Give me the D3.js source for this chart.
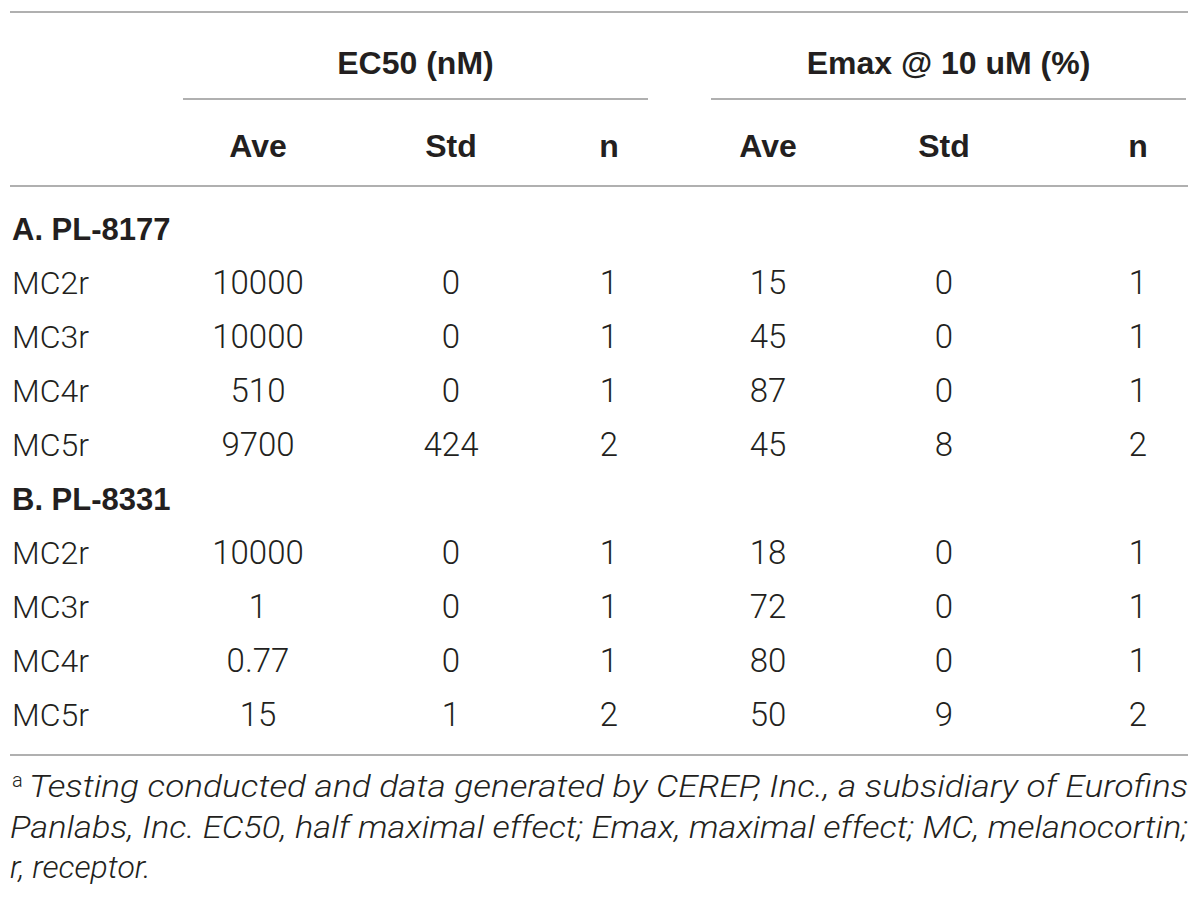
<!DOCTYPE html>
<html>
<head>
<meta charset="utf-8">
<script src="https://cdn.jsdelivr.net/npm/d3@7"></script>
<style>
  body { margin: 0; background: #fff; }
  svg { display: block; }
</style>
</head>
<body>
<div class="table"></div>
<script>
var w = 1200,
    h = 904;

// table contents
var compounds = ["A. PL-8177", "B. PL-8331"];
var receptors = ["MC2r", "MC3r", "MC4r", "MC5r"];
var groups = ["EC50 (nM)", "Emax @ 10 uM (%)"];
var subHeads = ["Ave", "Std", "n", "Ave", "Std", "n"];

var ec50Ave = [[10000, 10000, 510, 9700], [10000, 1, 0.77, 15]];
var ec50Std = [[0, 0, 0, 424], [0, 0, 0, 1]];
var ec50N   = [[1, 1, 1, 2], [1, 1, 1, 2]];
var emaxAve = [[15, 45, 87, 45], [18, 72, 80, 50]];
var emaxStd = [[0, 0, 0, 8], [0, 0, 0, 9]];
var emaxN   = [[1, 1, 1, 2], [1, 1, 1, 2]];

var footnote = [
  "Testing conducted and data generated by CEREP, Inc., a subsidiary of Eurofins",
  "Panlabs, Inc. EC50, half maximal effect; Emax, maximal effect; MC, melanocortin;",
  "r, receptor."
];

var ink = "#231f20",
    rule = "#b0b0b0",
    boldFont = "'Liberation Sans', Arial, sans-serif",
    lightFont = "Roboto, 'Liberation Sans', sans-serif";

// build rows: a section heading then its four receptors
var rows = [];
compounds.forEach(function(c, ci) {
  rows.push({ type: "section", label: c });
  receptors.forEach(function(r, ri) {
    rows.push({
      type: "data",
      label: r,
      values: [ec50Ave[ci][ri], ec50Std[ci][ri], ec50N[ci][ri],
               emaxAve[ci][ri], emaxStd[ci][ri], emaxN[ci][ri]]
    });
  });
});

var svg = d3.select("body").select(".table").append("svg")
  .attr("width", w)
  .attr("height", h);

var x = d3.scaleOrdinal()
  .domain(d3.range(6))
  .range([258, 451, 609, 768, 944, 1138]);

var y = d3.scaleBand()
  .domain(d3.range(rows.length))
  .range([201, 741]);

var left = 10, right = 1188;

// horizontal rules
[12, 186, 755].forEach(function(yy) {
  svg.append("line")
    .attr("x1", left).attr("x2", right)
    .attr("y1", yy).attr("y2", yy)
    .attr("stroke", rule).attr("stroke-width", 2);
});

var groupSpans = [[183, 648], [711, 1186]];
svg.selectAll(".grule")
  .data(groupSpans)
  .enter()
  .append("line")
  .attr("x1", function(d) { return d[0]; })
  .attr("x2", function(d) { return d[1]; })
  .attr("y1", 99).attr("y2", 99)
  .attr("stroke", rule).attr("stroke-width", 2);

// group headings
svg.selectAll(".ghead")
  .data(groups)
  .enter()
  .append("text")
  .attr("x", function(d, i) { return (groupSpans[i][0] + groupSpans[i][1]) / 2; })
  .attr("y", 74)
  .attr("text-anchor", "middle")
  .attr("font-family", boldFont)
  .attr("font-weight", "bold")
  .attr("font-size", 32)
  .attr("fill", ink)
  .text(function(d) { return d; });

// column headings
svg.selectAll(".shead")
  .data(subHeads)
  .enter()
  .append("text")
  .attr("x", function(d, i) { return x(i); })
  .attr("y", 157)
  .attr("text-anchor", "middle")
  .attr("font-family", boldFont)
  .attr("font-weight", "bold")
  .attr("font-size", 32)
  .attr("fill", ink)
  .text(function(d) { return d; });

// body rows
var row = svg.selectAll(".row")
  .data(rows)
  .enter()
  .append("g")
  .attr("transform", function(d, i) {
    return "translate(0," + (y(i) + y.bandwidth() / 2 + 11.5) + ")";
  });

row.append("text")
  .attr("x", 12)
  .attr("font-size", function(d) { return d.type == "section" ? 31 : 32; })
  .attr("font-family", function(d) { return d.type == "section" ? boldFont : lightFont; })
  .attr("font-weight", function(d) { return d.type == "section" ? "bold" : 300; })
  .attr("fill", ink)
  .text(function(d) { return d.label; });

row.filter(function(d) { return d.type == "data"; })
  .selectAll(".cell")
  .data(function(d) { return d.values; })
  .enter()
  .append("text")
  .attr("x", function(d, i) { return x(i); })
  .attr("text-anchor", "middle")
  .attr("font-family", lightFont)
  .attr("font-weight", 300)
  .attr("font-size", 33)
  .attr("fill", ink)
  .text(function(d) { return String(d); });

// footnote, justified lines
var foot = svg.selectAll(".foot")
  .data(footnote)
  .enter()
  .append("text")
  .attr("x", function(d, i) { return i == 0 ? 29 : left; })
  .attr("y", function(d, i) { return 797 + i * 40.5; })
  .attr("font-family", lightFont)
  .attr("font-weight", 300)
  .attr("font-size", 32)
  .attr("font-style", "italic")
  .attr("fill", ink)
  .text(function(d) { return d; });

foot.filter(function(d, i) { return i < 2; })
  .attr("textLength", function(d, i) { return i == 0 ? right - 29 : right - left; })
  .attr("lengthAdjust", "spacingAndGlyphs");

svg.append("text")
  .attr("x", 12)
  .attr("y", 787)
  .attr("font-family", lightFont)
  .attr("font-weight", 300)
  .attr("font-size", 20)
  .attr("fill", ink)
  .text("a");
</script>
</body>
</html>
